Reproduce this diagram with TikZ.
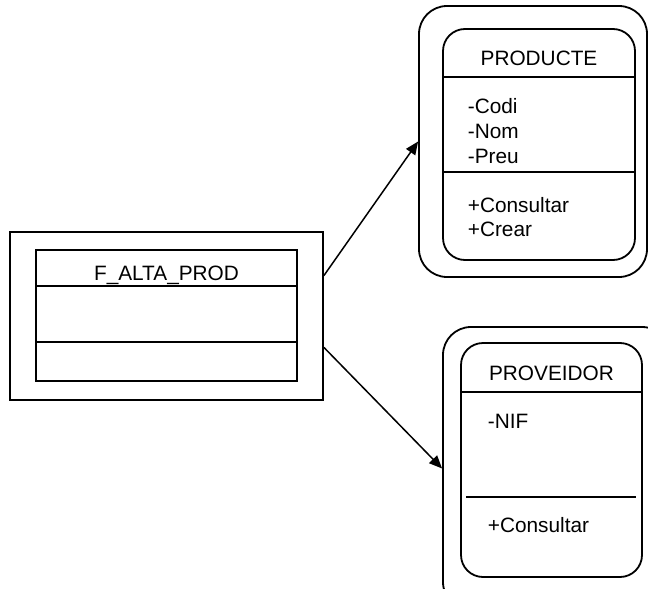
\documentclass[tikz,border=0pt]{standalone}
\usepackage{fontspec}
\setmainfont{Liberation Sans}
\usetikzlibrary{calc,arrows.meta}

\begin{document}
\begin{tikzpicture}[x=1pt,y=-1pt,line width=1.8pt,
        >={Triangle[length=13pt,width=11pt]},
        txt/.style={inner sep=0pt,font=\fontsize{20.8pt}{25pt}\selectfont}]
        \clip (0,0) rectangle (648,589);

        \begin{scope}
            \tikzstyle{every node}=[draw,rectangle,inner sep=0pt]

            % form box
            \node[minimum width=313pt, minimum height=168pt] (fin_out) at (166.5,316) {};
            \node[minimum width=261pt, minimum height=131pt] (fin_in) at (166.5,315.5) {};

            % PRODUCTE
            \node[rounded corners=28pt, minimum width=228pt, minimum height=271pt] (prod_out) at (533,141.5) {};
            \node[rounded corners=22pt, minimum width=192pt, minimum height=231pt] (prod_in) at (539,144.5) {};

            % PROVEIDOR
            \node[rounded corners=28pt, minimum width=227pt, minimum height=283pt] (prov_out) at (556.5,468.5) {};
            \node[rounded corners=22pt, minimum width=181pt, minimum height=234pt] (prov_in) at (551.5,460) {};
        \end{scope}

        \foreach \d in {37,93} {
            \draw ($(fin_in.north west)+(0,\d)$) -- ($(fin_in.north east)+(0,\d)$);
        }
        \foreach \d in {49,144} {
            \draw ($(prod_in.north west)+(0,\d)$) -- ($(prod_in.north east)+(0,\d)$);
        }
        \draw ($(prov_in.north west)+(0,50)$) -- ($(prov_in.north east)+(0,50)$);
        \draw ($(prov_in.north west)+(6,155)$) -- ($(prov_in.north east)+(-7,155)$);

        \node[txt, anchor=base] (fin_name) at (166.5,280) {F\_ALTA\_PROD};
        \node[txt, anchor=base] (prod_name) at (539,65) {PRODUCTE};
        \node[txt, anchor=base] (prov_name) at (551.5,380) {PROVEIDOR};

        \foreach \t/\y [count=\i] in {-Codi/113,-Nom/138,-Preu/163,+Consultar/212,+Crear/236} {
            \node[txt, anchor=base west] (prod_t\i) at (467,\y) {\t};
        }
        \node[txt, anchor=base west] (prov_a) at (487,428) {-NIF};
        \node[txt, anchor=base west] (prov_m) at (487,532) {+Consultar};

        \draw[->, line width=1.5pt] ($(fin_out.north east)!0.262!(fin_out.south east)$) -- (prod_out.west);
        \draw[->, line width=1.5pt] ($(fin_out.north east)!0.685!(fin_out.south east)$) -- (prov_out.west);

    \end{tikzpicture}
\end{document}
